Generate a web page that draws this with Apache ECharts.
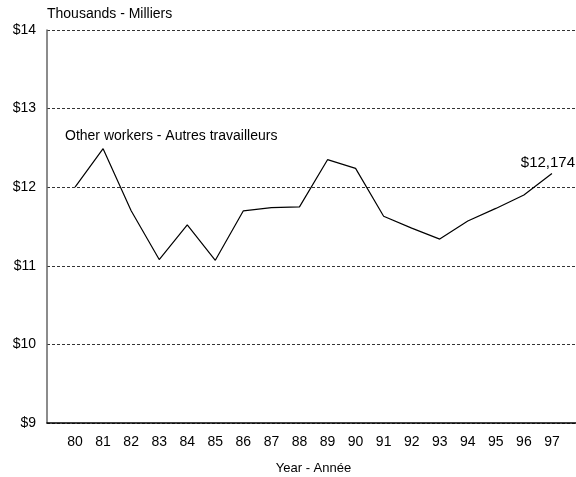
<!DOCTYPE html>
<html>
<head>
<meta charset="utf-8">
<script src="https://cdn.jsdelivr.net/npm/echarts@6/dist/echarts.min.js"></script>
<style>html,body{margin:0;padding:0;background:#fff;}#c{width:576px;height:477px;}</style>
</head>
<body>
<div id="c"></div>
<script>
var years = [80, 81, 82, 83, 84, 85, 86, 87, 88, 89, 90, 91, 92, 93, 94, 95, 96, 97];
var values = [12.00, 12.49, 11.70, 11.08, 11.52, 11.07, 11.70, 11.74, 11.75, 12.35, 12.24, 11.63, 11.48, 11.34, 11.57, 11.73, 11.90, 12.174];
var lastLabel = '$12,174';
var yTicks = [9, 10, 11, 12, 13, 14];
var seriesName = 'Other workers - Autres travailleurs';
var unitText = 'Thousands - Milliers';
var xName = 'Year - Année';

var font = '"Liberation Sans", Arial, sans-serif';
var pts = years.map(function (y, i) {
  var item = { value: [y, values[i]] };
  if (i === years.length - 1) {
    item.label = { show: true, position: 'top', distance: 3, formatter: lastLabel,
      color: '#000', fontSize: 15, fontFamily: font, offset: [-4, 0] };
  }
  return item;
});

var chart = echarts.init(document.getElementById('c'), null, { renderer: 'canvas' });
chart.setOption({
  animation: false,
  backgroundColor: '#fff',
  grid: { left: 47, width: 533, top: 30, height: 393, containLabel: false, outerBoundsMode: 'none' },
  graphic: [
    { type: 'text', left: 47, top: 7, style: { text: unitText, fill: '#000', font: '14px ' + font } },
    { type: 'text', left: 65, top: 129, style: { text: seriesName, fill: '#000', font: '14px ' + font } }
  ],
  xAxis: {
    type: 'value', min: 79, max: 98, interval: 1,
    name: xName, nameLocation: 'middle', nameGap: 39,
    nameTextStyle: { color: '#000', fontSize: 13, fontFamily: font },
    axisLine: { show: true, lineStyle: { color: '#000', width: 1.5 } },
    axisTick: { show: false },
    splitLine: { show: false },
    axisLabel: { color: '#000', fontSize: 14, fontFamily: font, margin: 12,
      formatter: function (v) { return years.indexOf(v) >= 0 ? String(v) : ''; } }
  },
  yAxis: {
    type: 'value', min: yTicks[0], max: yTicks[yTicks.length - 1], interval: 1,
    axisLine: { show: true, lineStyle: { color: '#666', width: 1.5 } },
    axisTick: { show: false },
    splitLine: { show: true, lineStyle: { color: '#000', type: [3, 2], width: 0.8 } },
    axisLabel: { color: '#000', fontSize: 14, fontFamily: font, margin: 11,
      formatter: function (v) { return '$' + v; } }
  },
  series: [{
    type: 'line', name: seriesName, data: pts,
    symbol: 'circle', symbolSize: 0.01, showSymbol: true,
    lineStyle: { color: '#000', width: 1.2 },
    itemStyle: { color: '#000' }
  }]
});
</script>
</body>
</html>
